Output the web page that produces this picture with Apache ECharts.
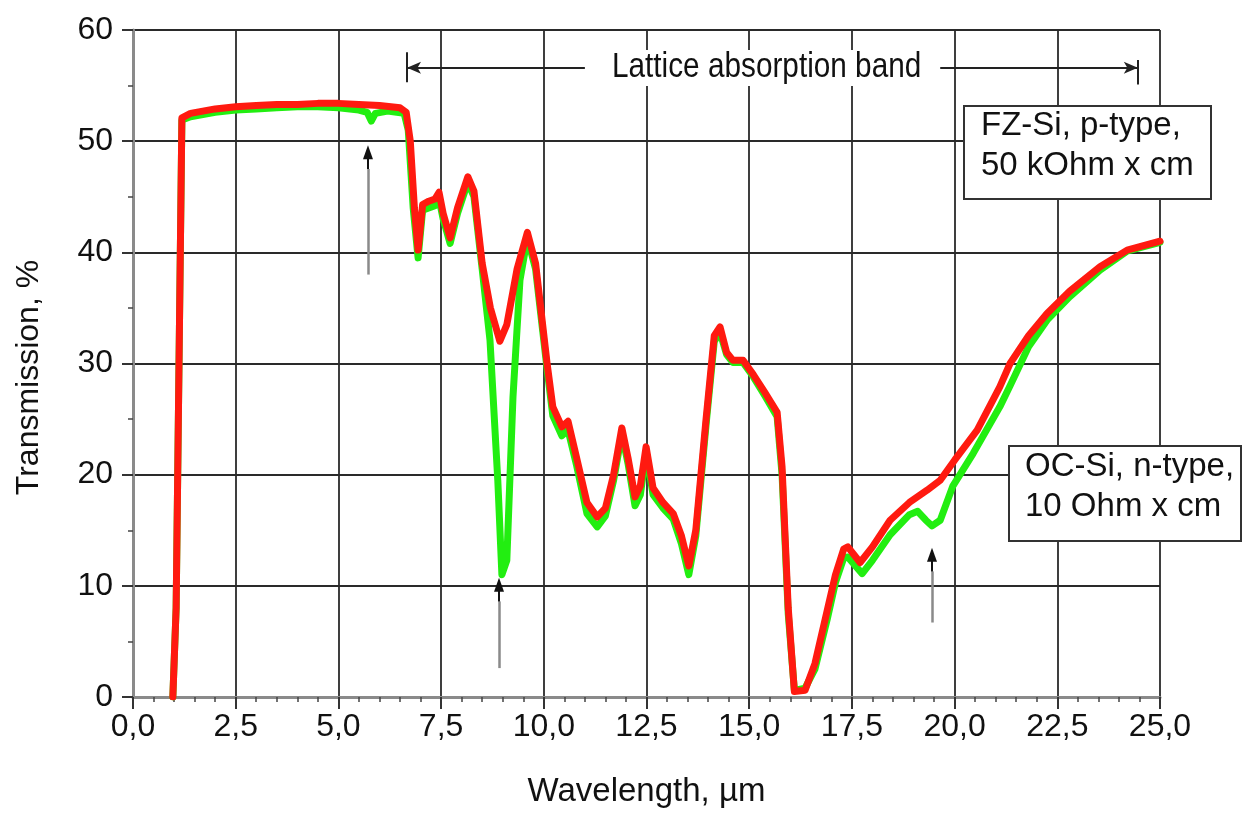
<!DOCTYPE html>
<html>
<head>
<meta charset="utf-8">
<script src="https://cdn.jsdelivr.net/npm/echarts@6/dist/echarts.min.js"></script>
<style>
html,body{margin:0;padding:0;background:#fff;}
#chart{width:1243px;height:814px;}
</style>
</head>
<body>
<div id="chart"></div>
<script>
// Wavelength (µm) and transmission (%) — FZ-Si, p-type (red)
var fzWavelength = [0.97,1.05,1.12,1.19,1.4,2.0,2.5,3.0,3.5,4.0,4.5,5.0,5.5,6.0,6.5,6.65,6.75,6.85,6.94,7.05,7.2,7.35,7.45,7.55,7.72,7.9,8.15,8.3,8.5,8.7,8.93,9.1,9.35,9.6,9.8,10.08,10.22,10.44,10.59,10.8,11.05,11.3,11.5,11.7,11.9,12.05,12.22,12.35,12.49,12.66,12.9,13.15,13.35,13.53,13.7,13.95,14.15,14.29,14.45,14.6,14.85,15.1,15.38,15.68,15.8,15.95,16.1,16.36,16.6,16.9,17.1,17.3,17.4,17.7,18.0,18.43,18.9,19.33,19.65,20.0,20.55,21.1,21.35,21.8,22.25,22.8,23.54,24.2,25.0];
var fzTransmission = [0,8,30,52.1,52.5,52.9,53.1,53.2,53.3,53.3,53.4,53.4,53.3,53.2,53.0,52.6,50,44,40.2,44.3,44.6,44.8,45.4,43.5,41.3,44,46.8,45.5,39,35,32,33.5,38.5,41.8,39,30,26.1,24.3,24.8,21.5,17.5,16.2,17,20,24.2,21.5,18,19,22.5,18.8,17.5,16.5,14.5,11.8,15,25,32.5,33.3,31,30.3,30.3,29,27.4,25.6,20.7,8,0.5,0.6,3,7.8,11,13.3,13.5,12.1,13.5,15.9,17.5,18.6,19.5,21.3,24,27.9,30,32.5,34.5,36.5,38.7,40.2,41.0];

// OC-Si, n-type (green)
var ocWavelength = [0.97,1.05,1.12,1.19,1.4,2.0,2.5,3.0,3.5,4.0,4.5,5.0,5.5,5.7,5.8,5.9,6.2,6.6,6.7,6.82,6.94,7.05,7.2,7.35,7.45,7.55,7.72,7.9,8.15,8.3,8.5,8.69,8.88,8.98,9.1,9.25,9.42,9.6,9.8,10.08,10.22,10.44,10.59,10.8,11.05,11.3,11.5,11.7,11.9,12.05,12.22,12.35,12.49,12.66,12.9,13.15,13.35,13.53,13.7,13.95,14.15,14.29,14.45,14.6,14.85,15.1,15.38,15.68,15.8,15.95,16.1,16.36,16.6,16.9,17.1,17.3,17.4,17.75,18.0,18.43,18.9,19.1,19.3,19.45,19.65,19.96,20.45,21.1,21.35,21.8,22.25,22.8,23.54,24.2,25.0];
var ocTransmission = [0,8,30,51.9,52.2,52.6,52.8,52.9,53.0,53.1,53.1,53.0,52.8,52.6,51.8,52.5,52.7,52.5,51,44,39.5,43.8,44.0,44.2,44.8,43,40.8,43.5,46.3,45,38.5,32.1,19.5,11.0,12.3,27,37.5,41.3,38.5,29.5,25.3,23.5,24,20.8,16.5,15.3,16.3,19.5,23.7,21,17.2,18.2,22,18.2,17,16,13.8,11.0,14.5,24.5,32,32.8,30.8,30.1,30.1,28.8,27.1,25.2,20,7.5,0.6,0.8,2.5,7,10.3,12.5,12.6,11.1,12.3,14.6,16.4,16.7,15.9,15.4,15.9,19,21.9,26.1,28,31.5,33.9,36,38.4,40.1,40.9];

// Axis ticks
var xTicks = {min: 0, max: 25, interval: 2.5};
var yTicks = {min: 0, max: 60, interval: 10};

// Annotation arrows [x1,y1,x2,y2] in data units
var bandLeft = [6.67, 56.6, 11.0, 56.6];
var bandRight = [19.65, 56.6, 24.46, 56.6];
var bandLeftBar = [6.67, 58.0, 6.67, 55.3];
var bandRightBar = [24.46, 57.3, 24.46, 55.1];
var markerArrows = [
  [5.72, 38.0, 5.72, 47.5, 49.0],
  [8.91, 2.6, 8.91, 8.6, 10.1],
  [19.45, 6.7, 19.45, 11.3, 12.8]
];

function zip(a, b) { return a.map(function (v, i) { return [v, b[i]]; }); }

var font = '"Liberation Sans", Arial, sans-serif';

var markData = [];
markData.push([{coord: [bandLeft[0], bandLeft[1]], symbol: 'arrow'}, {coord: [bandLeft[2], bandLeft[3]], symbol: 'none'}]);
markData.push([{coord: [bandRight[0], bandRight[1]], symbol: 'none'}, {coord: [bandRight[2], bandRight[3]], symbol: 'arrow'}]);
markData.push([{coord: [bandLeftBar[0], bandLeftBar[1]], symbol: 'none'}, {coord: [bandLeftBar[2], bandLeftBar[3]], symbol: 'none'}]);
markData.push([{coord: [bandRightBar[0], bandRightBar[1]], symbol: 'none'}, {coord: [bandRightBar[2], bandRightBar[3]], symbol: 'none'}]);
var arrowShafts = [], arrowHeads = [];
markerArrows.forEach(function (a) {
  arrowShafts.push([{coord: [a[0], a[1]], symbol: 'none'}, {coord: [a[2], a[3]], symbol: 'none'}]);
  arrowHeads.push([{coord: [a[2], a[3]], symbol: 'none'}, {coord: [a[2], a[4]], symbol: 'triangle'}]);
});

var chart = echarts.init(document.getElementById('chart'), null, {renderer: 'canvas'});
chart.setOption({
  animation: false,
  backgroundColor: '#ffffff',
  textStyle: {fontFamily: font},
  grid: {left: 133, right: 83, top: 30, bottom: 117, containLabel: false},
  xAxis: {
    type: 'value', min: xTicks.min, max: xTicks.max, interval: xTicks.interval,
    name: 'Wavelength, µm', nameLocation: 'middle', nameGap: 78,
    nameTextStyle: {fontSize: 33, color: '#111', fontFamily: font},
    axisLine: {show: true, onZero: false, lineStyle: {color: '#8a8a8a', width: 3}},
    axisTick: {show: true, length: 12, lineStyle: {color: '#333', width: 2}},
    minorTick: {show: true, splitNumber: 5, length: 5, lineStyle: {color: '#444', width: 1.5}},
    axisLabel: {fontSize: 32, color: '#111', margin: 14, fontFamily: font,
      formatter: function (v) { return v.toFixed(1).replace('.', ','); }},
    splitLine: {show: true, lineStyle: {color: '#2a2a2a', width: 1.8}}
  },
  yAxis: {
    type: 'value', min: yTicks.min, max: yTicks.max, interval: yTicks.interval,
    name: 'Transmission, %', nameLocation: 'middle', nameGap: 88, nameRotate: 90,
    nameTextStyle: {fontSize: 32, color: '#111', fontFamily: font, padding: [0, 28, 0, 0]},
    axisLine: {show: true, onZero: false, lineStyle: {color: '#8a8a8a', width: 3}},
    axisTick: {show: true, length: 11, lineStyle: {color: '#333', width: 2}},
    minorTick: {show: true, splitNumber: 2, length: 5, lineStyle: {color: '#444', width: 1.5}},
    axisLabel: {fontSize: 32, color: '#111', margin: 20, fontFamily: font},
    splitLine: {show: true, lineStyle: {color: '#2a2a2a', width: 1.8}}
  },
  series: [
    {
      name: 'OC-Si', type: 'line', data: zip(ocWavelength, ocTransmission),
      showSymbol: false, symbol: 'none', smooth: false, z: 3,
      lineStyle: {color: '#22ee11', width: 7, join: 'round', cap: 'round'}
    },
    {
      name: 'FZ-Si', type: 'line', data: zip(fzWavelength, fzTransmission),
      showSymbol: false, symbol: 'none', smooth: false, z: 4,
      lineStyle: {color: '#ff1a10', width: 7, join: 'round', cap: 'round'}
    },
    {
      name: 'band', type: 'line', data: [], z: 5,
      markLine: {
        silent: true, animation: false, symbolSize: [9, 14],
        label: {show: false},
        lineStyle: {color: '#222', width: 2, type: 'solid'},
        data: markData
      }
    },
    {
      name: 'shafts', type: 'line', data: [], z: 5,
      markLine: {
        silent: true, animation: false, symbolSize: [10, 14],
        label: {show: false},
        lineStyle: {color: '#8a8a8a', width: 2.5, type: 'solid'},
        data: arrowShafts
      }
    },
    {
      name: 'heads', type: 'line', data: [], z: 6,
      markLine: {
        silent: true, animation: false, symbolSize: [10, 14],
        label: {show: false},
        lineStyle: {color: '#111', width: 2, type: 'solid'},
        data: arrowHeads
      }
    }
  ],
  graphic: [
    {type: 'rect', left: 587, top: 50, shape: {width: 352, height: 36}, style: {fill: '#fff'}, z: 10},
    {type: 'text', x: 612, y: 50, scaleX: 0.85, style: {text: 'Lattice absorption band', font: '35px ' + font, fill: '#111'}, z: 11},
    {type: 'rect', left: 963, top: 105, shape: {width: 247, height: 93}, style: {fill: '#fff', stroke: '#333', lineWidth: 2}, z: 10},
    {type: 'text', left: 981, top: 106, style: {text: 'FZ-Si, p-type,\n50 kOhm x cm', font: '33px ' + font, fill: '#111', lineHeight: 40}, z: 11},
    {type: 'rect', left: 1008, top: 445, shape: {width: 232, height: 95}, style: {fill: '#fff', stroke: '#333', lineWidth: 2}, z: 10},
    {type: 'text', left: 1025, top: 447, style: {text: 'OC-Si, n-type,\n10 Ohm x cm', font: '33px ' + font, fill: '#111', lineHeight: 40}, z: 11}
  ]
});
</script>
</body>
</html>
